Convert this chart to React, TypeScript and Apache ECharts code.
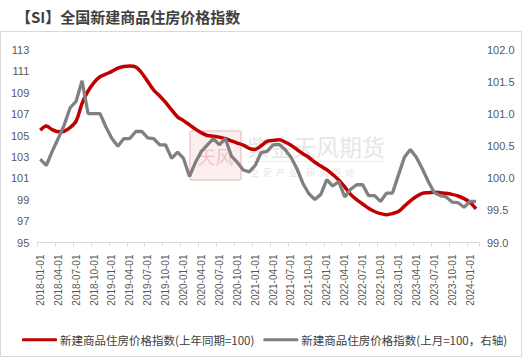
import React, { useEffect, useRef } from 'react';
import * as echarts from 'echarts';

// Monthly categories 2018-01 … 2024-02
const categories: string[] = [];
for (let y = 2018; y <= 2024; y++) {
  for (let m = 1; m <= 12; m++) {
    if (y === 2024 && m > 2) break;
    categories.push(`${y}-${String(m).padStart(2, '0')}-01`);
  }
}

// 新建商品住房价格指数(上年同期=100) — left axis
const yoyValues = [
  105.5, 105.9, 105.55, 105.35, 105.4, 105.75, 106.35, 108.0, 109.15, 109.95,
  110.5, 110.75, 111.0, 111.3, 111.45, 111.5, 111.4, 110.85, 110.05, 109.25,
  108.7, 108.1, 107.4, 106.75, 106.4, 106.0, 105.6, 105.25, 105.0, 104.93,
  104.85, 104.7, 104.5, 104.3, 104.1, 103.8, 103.7, 104.05, 104.45, 104.55,
  104.6, 104.4, 104.1, 103.7, 103.3, 102.95, 102.5, 102.15, 101.8, 101.35,
  100.85, 100.2, 99.5, 99.0, 98.6, 98.2, 97.9, 97.7, 97.6, 97.7,
  97.9, 98.4, 98.9, 99.3, 99.6, 99.65, 99.7, 99.65, 99.6, 99.5,
  99.35, 99.1, 98.75, 98.15,
];

// 新建商品住房价格指数(上月=100，右轴) — right axis
const momValues = [
  100.3, 100.2, 100.42, 100.62, 100.83, 101.1, 101.2, 101.52, 101.01, 101.01,
  101.01, 100.8, 100.62, 100.5, 100.62, 100.62, 100.73, 100.73, 100.63, 100.62,
  100.52, 100.52, 100.31, 100.41, 100.31, 100.03, 100.25, 100.42, 100.52, 100.62,
  100.52, 100.62, 100.35, 100.25, 100.13, 100.1, 100.2, 100.4, 100.42, 100.52,
  100.53, 100.45, 100.33, 100.15, 99.92, 99.76, 99.67, 99.75, 99.98, 99.88,
  99.95, 99.71, 99.83, 99.9, 99.9, 99.73, 99.73, 99.64, 99.77, 99.77,
  100.05, 100.33, 100.45, 100.33, 100.15, 99.95, 99.78, 99.73, 99.71, 99.63,
  99.62, 99.55, 99.64, 99.64,
];

const seriesNames = ['新建商品住房价格指数(上年同期=100)', '新建商品住房价格指数(上月=100，右轴)'];
const titleText = '【SI】全国新建商品住房价格指数';

const LATIN = '"Liberation Sans", Arial, sans-serif';
const CJK = '"Noto Sans CJK SC", "Noto Sans", sans-serif';

export default function App() {
  const ref = useRef<HTMLDivElement>(null);
  useEffect(() => {
    if (!ref.current) return;
    const chart = echarts.init(ref.current, undefined, { renderer: 'svg' });
    chart.setOption({
      animation: false,
      backgroundColor: '#ffffff',
      title: {
        text: titleText,
        left: 11,
        top: 4,
        textStyle: { fontSize: 15, fontWeight: 'bold', color: '#404040', fontFamily: CJK },
      },
      graphic: [
        {
          type: 'rect',
          shape: { x: 0.5, y: 31.5, width: 521, height: 325 },
          style: { fill: 'none', stroke: '#d9d9d9', lineWidth: 1 },
          silent: true,
        },
        {
          type: 'rect',
          shape: { x: 190, y: 131, width: 51, height: 49, r: 2 },
          style: { fill: '#fbeeee', stroke: '#f1caca', lineWidth: 1.5 },
          silent: true,
        },
        {
          type: 'text',
          style: { x: 215.5, y: 155.5, text: '天风', fill: '#f0c4c4', fontSize: 18, fontFamily: CJK, align: 'center', verticalAlign: 'middle' },
          silent: true,
        },
        {
          type: 'text',
          style: { x: 247, y: 146, text: '紫金天风期货', fill: '#e6e6e6', fontSize: 23, fontFamily: CJK, verticalAlign: 'middle' },
          silent: true,
        },
        {
          type: 'line',
          shape: { x1: 247, y1: 161.5, x2: 386, y2: 161.5 },
          style: { stroke: '#eeeeee', lineWidth: 1 },
          silent: true,
        },
        {
          type: 'text',
          style: { x: 250, y: 172, text: '立  足  产  业    研  究  驱  动', fill: '#e6e6e6', fontSize: 9, fontFamily: CJK, verticalAlign: 'middle' },
          silent: true,
        },
      ],
      legend: {
        left: 17,
        top: 329,
        width: 510,
        itemGap: 9,
        itemWidth: 35,
        itemHeight: 3,
        icon: 'roundRect',
        textStyle: { fontSize: 11.5, color: '#404040', fontFamily: CJK, padding: [0, 0, 0, -2] },
        data: seriesNames,
      },
      grid: { left: 37.3, right: 50, top: 50, bottom: 115.5, containLabel: false },
      xAxis: {
        type: 'category',
        data: categories,
        boundaryGap: true,
        axisLine: { lineStyle: { color: '#d9d9d9', width: 1 } },
        axisTick: { show: true, interval: 2, length: 4, lineStyle: { color: '#d9d9d9' } },
        axisLabel: {
          interval: 2,
          rotate: 90,
          margin: 12,
          fontSize: 10,
          color: '#595959',
          fontFamily: LATIN,
        },
        splitLine: { show: false },
      },
      yAxis: [
        {
          type: 'value',
          min: 95,
          max: 113,
          interval: 2,
          axisLine: { show: false },
          axisTick: { show: false },
          splitLine: { show: false },
          axisLabel: { fontSize: 11, color: '#595959', fontFamily: LATIN, margin: 8 },
        },
        {
          type: 'value',
          min: 99,
          max: 102,
          interval: 0.5,
          axisLine: { show: false },
          axisTick: { show: false },
          splitLine: { show: false },
          axisLabel: {
            fontSize: 11,
            color: '#595959',
            fontFamily: LATIN,
            margin: 8,
            formatter: (v: number) => v.toFixed(1),
          },
        },
      ],
      series: [
        {
          name: seriesNames[0],
          type: 'line',
          yAxisIndex: 0,
          data: yoyValues,
          smooth: 0.3,
          showSymbol: false,
          symbol: 'none',
          lineStyle: { color: '#c00000', width: 3.5 },
          itemStyle: { color: '#c00000' },
          z: 3,
        },
        {
          name: seriesNames[1],
          type: 'line',
          yAxisIndex: 1,
          data: momValues,
          showSymbol: false,
          symbol: 'none',
          lineStyle: { color: '#808080', width: 3.3 },
          itemStyle: { color: '#808080' },
          z: 4,
        },
      ],
    });
    return () => chart.dispose();
  }, []);
  return (
    <div
      ref={ref}
      style={{ position: 'fixed', left: 0, top: 0, width: 529, height: 358, background: '#fff' }}
    />
  );
}
